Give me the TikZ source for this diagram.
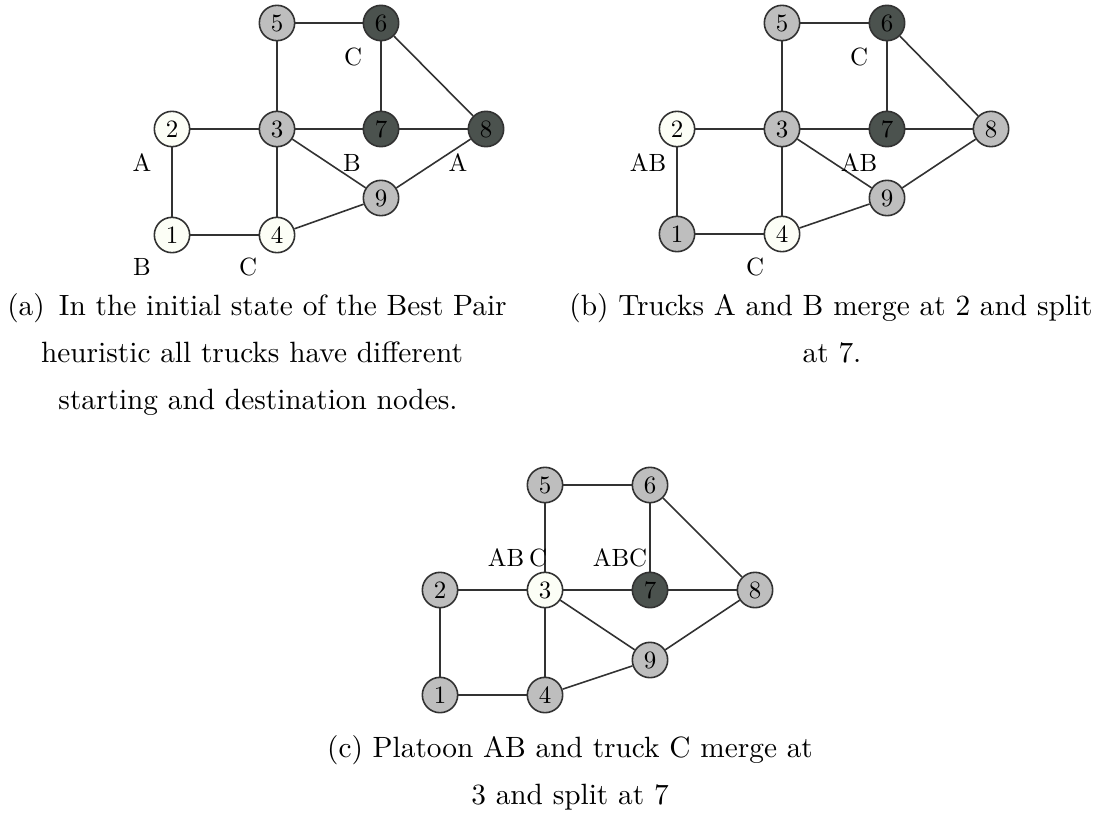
\documentclass[tikz,border=0pt]{standalone}
\usepackage{fontspec}
\usepackage{graphicx}
\definecolor{wnode}{RGB}{252,254,246}
\definecolor{gnode}{RGB}{190,190,190}
\definecolor{dnode}{RGB}{75,82,78}
\definecolor{eline}{RGB}{50,50,50}
\newcommand\smtx[1]{\scalebox{1.87}{\fontsize{10}{12}\selectfont #1}}
\newcommand\bgtx[1]{\scalebox{2.2}{\fontsize{10}{12}\selectfont #1}}
\tikzset{
  vtx/.style={circle,draw=eline,line width=1.2pt,minimum size=26.5pt,inner sep=0pt},
  edge/.style={draw=eline,line width=1.2pt},
  lbl/.style={inner sep=0pt},
  captext/.style={inner sep=0pt,anchor=base}
}
\begin{document}
\begin{tikzpicture}[x=0.75pt,y=-0.75pt]
\useasboundingbox (0,0) rectangle (1094,814);
% ---------- (a)
\foreach \n/\x/\y/\c in {5/277/23/gnode,6/381/23/dnode,2/172/129/wnode,3/277/129/gnode,7/381/129/dnode,8/486/129/dnode,9/381/198/gnode,1/172/235/wnode,4/277/235/wnode}
  {\node[vtx,fill=\c] (a\n) at (\x,\y) {\smtx{\n}};}
\foreach \u/\v in {5/6,5/3,6/7,6/8,2/3,3/7,7/8,3/9,9/8,2/1,3/4,1/4,4/9}
  {\draw[edge] (a\u) -- (a\v);}
\node[lbl] (aC1) at (353,57) {\smtx{C}};
\node[lbl] (aA1) at (142,163) {\smtx{A}};
\node[lbl] (aB1) at (352,163) {\smtx{B}};
\node[lbl] (aA2) at (458,163) {\smtx{A}};
\node[lbl] (aB2) at (142,267) {\smtx{B}};
\node[lbl] (aC2) at (248,267) {\smtx{C}};
\node[captext] (acap1) at (257,315) {\bgtx{(a)\hspace{1.5pt} In the initial state of the Best Pair}};
\node[captext] (acap2) at (252,362) {\bgtx{heuristic all trucks have different}};
\node[captext] (acap3) at (258,409) {\bgtx{starting and destination nodes.}};
% ---------- (b)
\foreach \n/\x/\y/\c in {5/782/23/gnode,6/887/23/dnode,2/677/129/wnode,3/782/129/gnode,7/887/129/dnode,8/991/129/gnode,9/887/198/gnode,1/677/234/gnode,4/782/234/wnode}
  {\node[vtx,fill=\c] (b\n) at (\x,\y) {\smtx{\n}};}
\foreach \u/\v in {5/6,5/3,6/7,6/8,2/3,3/7,7/8,3/9,9/8,2/1,3/4,1/4,4/9}
  {\draw[edge] (b\u) -- (b\v);}
\node[lbl] (bC1) at (859,57) {\smtx{C}};
\node[lbl] (bAB1) at (648,163) {\smtx{AB}};
\node[lbl] (bAB2) at (859,163) {\smtx{AB}};
\node[lbl] (bC2) at (755,267) {\smtx{C}};
\node[captext] (bcap1) at (831,315) {\bgtx{(b) Trucks A and B merge at 2 and split}};
\node[captext] (bcap2) at (832,362) {\bgtx{at 7.}};
% ---------- (c)
\foreach \n/\x/\y/\c in {5/545/485/gnode,6/650/485/gnode,2/440/590/gnode,3/545/590/wnode,7/650/590/dnode,8/755/590/gnode,9/650/660/gnode,1/440/695/gnode,4/545/695/gnode}
  {\node[vtx,fill=\c] (c\n) at (\x,\y) {\smtx{\n}};}
\foreach \u/\v in {5/6,5/3,6/7,6/8,2/3,3/7,7/8,3/9,9/8,2/1,3/4,1/4,4/9}
  {\draw[edge] (c\u) -- (c\v);}
\node[lbl] (cAB) at (506,558) {\smtx{AB}};
\node[lbl] (cC) at (538,558) {\smtx{C}};
\node[lbl] (cABC) at (620,558) {\smtx{ABC}};
\node[captext] (ccap1) at (570,757) {\bgtx{(c) Platoon AB and truck C merge at}};
\node[captext] (ccap2) at (570,804) {\bgtx{3 and split at 7}};
\end{tikzpicture}
\end{document}
